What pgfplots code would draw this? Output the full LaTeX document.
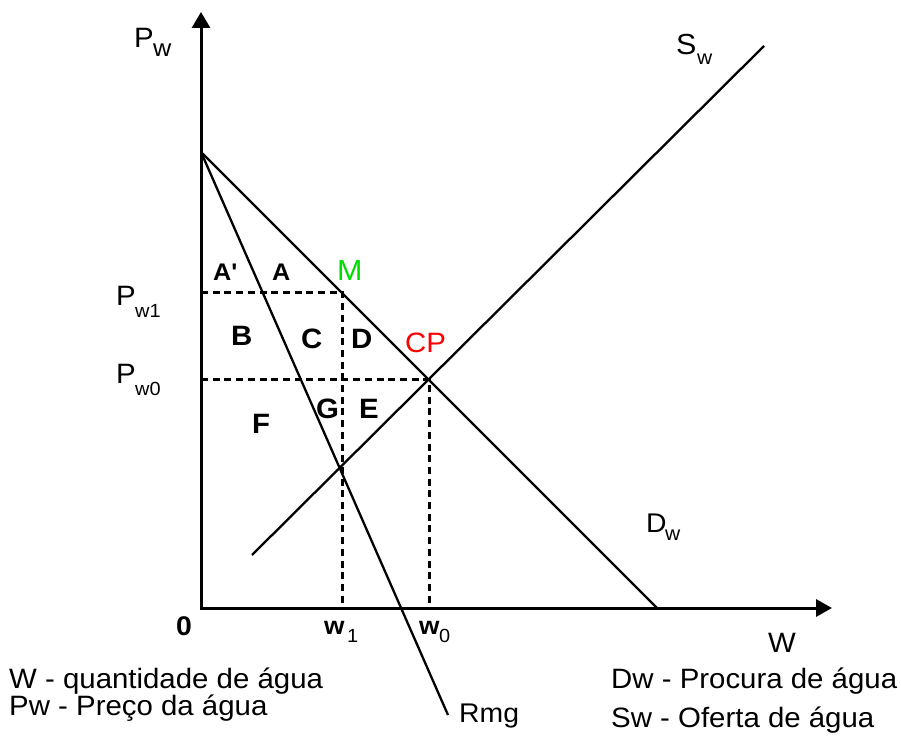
\documentclass[border=0pt]{standalone}
\usepackage{pgfplots}
\pgfplotsset{compat=1.18}
\usepackage{fontspec}
\setmainfont{Liberation Sans}
\usetikzlibrary{arrows.meta}
\definecolor{mgreen}{RGB}{0,220,0}
\newcommand{\st}[1]{\scalebox{1.05}[1]{#1}}
\begin{document}
\begin{tikzpicture}
\begin{axis}[
  width=901pt, height=740pt, scale only axis,
  xmin=0, xmax=901, ymin=0, ymax=740,
  enlargelimits=false, axis lines=none, xtick=\empty, ytick=\empty,
  clip=false,
]
\addplot[draw=none] coordinates {(0,0) (901,740)};
% axes
\addplot[line width=3pt, -{Triangle[length=16pt,width=18pt]}] coordinates {(201,130.5) (201,728)};
\addplot[line width=3pt, -{Triangle[length=16pt,width=17pt]}] coordinates {(199.5,132) (832,132)};
% demand
\addplot[line width=2.3pt] coordinates {(201,588) (657,132)};
% marginal revenue
\addplot[line width=2.3pt] coordinates {(201,588) (448,25)};
% supply
\addplot[line width=2.3pt] coordinates {(252,185) (764,694)};
% dotted guides
\addplot[line width=3pt, dash pattern=on 7pt off 4.7pt] coordinates {(201,448) (342,448) (342,132)};
\addplot[line width=3pt, dash pattern=on 7pt off 4.7pt] coordinates {(201,361) (429,361) (429,132)};
% labels
\node[anchor=base west,inner sep=0pt,font=\fontsize{28}{30}\selectfont] at (axis cs:134,692) {\st{P}};
\node[anchor=base west,inner sep=0pt,font=\fontsize{24}{26}\selectfont] at (axis cs:153,683) {\st{w}};
\node[anchor=base west,inner sep=0pt,font=\fontsize{28}{30}\selectfont] at (axis cs:116,435) {\st{P}};
\node[anchor=base west,inner sep=0pt,font=\fontsize{19}{20}\selectfont] at (axis cs:135,423) {\st{w1}};
\node[anchor=base west,inner sep=0pt,font=\fontsize{28}{30}\selectfont] at (axis cs:116,357) {\st{P}};
\node[anchor=base west,inner sep=0pt,font=\fontsize{19}{20}\selectfont] at (axis cs:135,345) {\st{w0}};
\node[anchor=base west,inner sep=0pt,font=\fontsize{27}{30}\selectfont\bfseries] at (axis cs:176,105) {\st{0}};
\node[anchor=base west,inner sep=0pt,font=\fontsize{25}{26}\selectfont\bfseries] at (axis cs:324,106) {\st{w}};
\node[anchor=base west,inner sep=0pt,font=\fontsize{19}{22}\selectfont] at (axis cs:347,98) {\st{1}};
\node[anchor=base west,inner sep=0pt,font=\fontsize{25}{26}\selectfont\bfseries] at (axis cs:419,106) {\st{w}};
\node[anchor=base west,inner sep=0pt,font=\fontsize{19}{22}\selectfont] at (axis cs:439,98) {\st{0}};
\node[anchor=base west,inner sep=0pt,font=\fontsize{27}{30}\selectfont] at (axis cs:459,18) {\st{Rmg}};
\node[anchor=base west,inner sep=0pt,font=\fontsize{29}{30}\selectfont] at (axis cs:676,685) {\st{S}};
\node[anchor=base west,inner sep=0pt,font=\fontsize{20}{22}\selectfont] at (axis cs:697,675) {\st{w}};
\node[anchor=base west,inner sep=0pt,font=\fontsize{27}{30}\selectfont] at (axis cs:646,208) {\st{D}};
\node[anchor=base west,inner sep=0pt,font=\fontsize{20}{22}\selectfont] at (axis cs:665,200) {\st{w}};
\node[anchor=base west,inner sep=0pt,font=\fontsize{28}{30}\selectfont] at (axis cs:768,88) {\st{W}};
\node[anchor=base west,inner sep=0pt,font=\fontsize{28}{30}\selectfont] at (axis cs:611,52) {\st{Dw - Procura de água}};
\node[anchor=base west,inner sep=0pt,font=\fontsize{28}{30}\selectfont] at (axis cs:611,13) {\st{Sw - Oferta de água}};
\node[anchor=base west,inner sep=0pt,font=\fontsize{28}{30}\selectfont] at (axis cs:9,52) {\st{W - quantidade de água}};
\node[anchor=base west,inner sep=0pt,font=\fontsize{28}{30}\selectfont] at (axis cs:9,25) {\st{Pw - Preço da água}};
\node[anchor=base west,inner sep=0pt,font=\fontsize{24}{26}\selectfont\bfseries] at (axis cs:213,460) {\st{A\textquotesingle}};
\node[anchor=base west,inner sep=0pt,font=\fontsize{24}{26}\selectfont\bfseries] at (axis cs:272,460) {\st{A}};
\node[anchor=base west,inner sep=0pt,font=\fontsize{29}{30}\selectfont,text=mgreen] at (axis cs:337,460) {\st{M}};
\node[anchor=base west,inner sep=0pt,font=\fontsize{28}{30}\selectfont\bfseries] at (axis cs:231,395) {\st{B}};
\node[anchor=base west,inner sep=0pt,font=\fontsize{28}{30}\selectfont\bfseries] at (axis cs:301,392) {\st{C}};
\node[anchor=base west,inner sep=0pt,font=\fontsize{28}{30}\selectfont\bfseries] at (axis cs:351,392) {\st{D}};
\node[anchor=base west,inner sep=0pt,font=\fontsize{28}{30}\selectfont,text=red] at (axis cs:405,388) {\st{CP}};
\node[anchor=base west,inner sep=0pt,font=\fontsize{28}{30}\selectfont\bfseries] at (axis cs:316,322) {\st{G}};
\node[anchor=base west,inner sep=0pt,font=\fontsize{28}{30}\selectfont\bfseries] at (axis cs:359,322) {\st{E}};
\node[anchor=base west,inner sep=0pt,font=\fontsize{28}{30}\selectfont\bfseries] at (axis cs:252,307) {\st{F}};
\end{axis}
\end{tikzpicture}
\end{document}
